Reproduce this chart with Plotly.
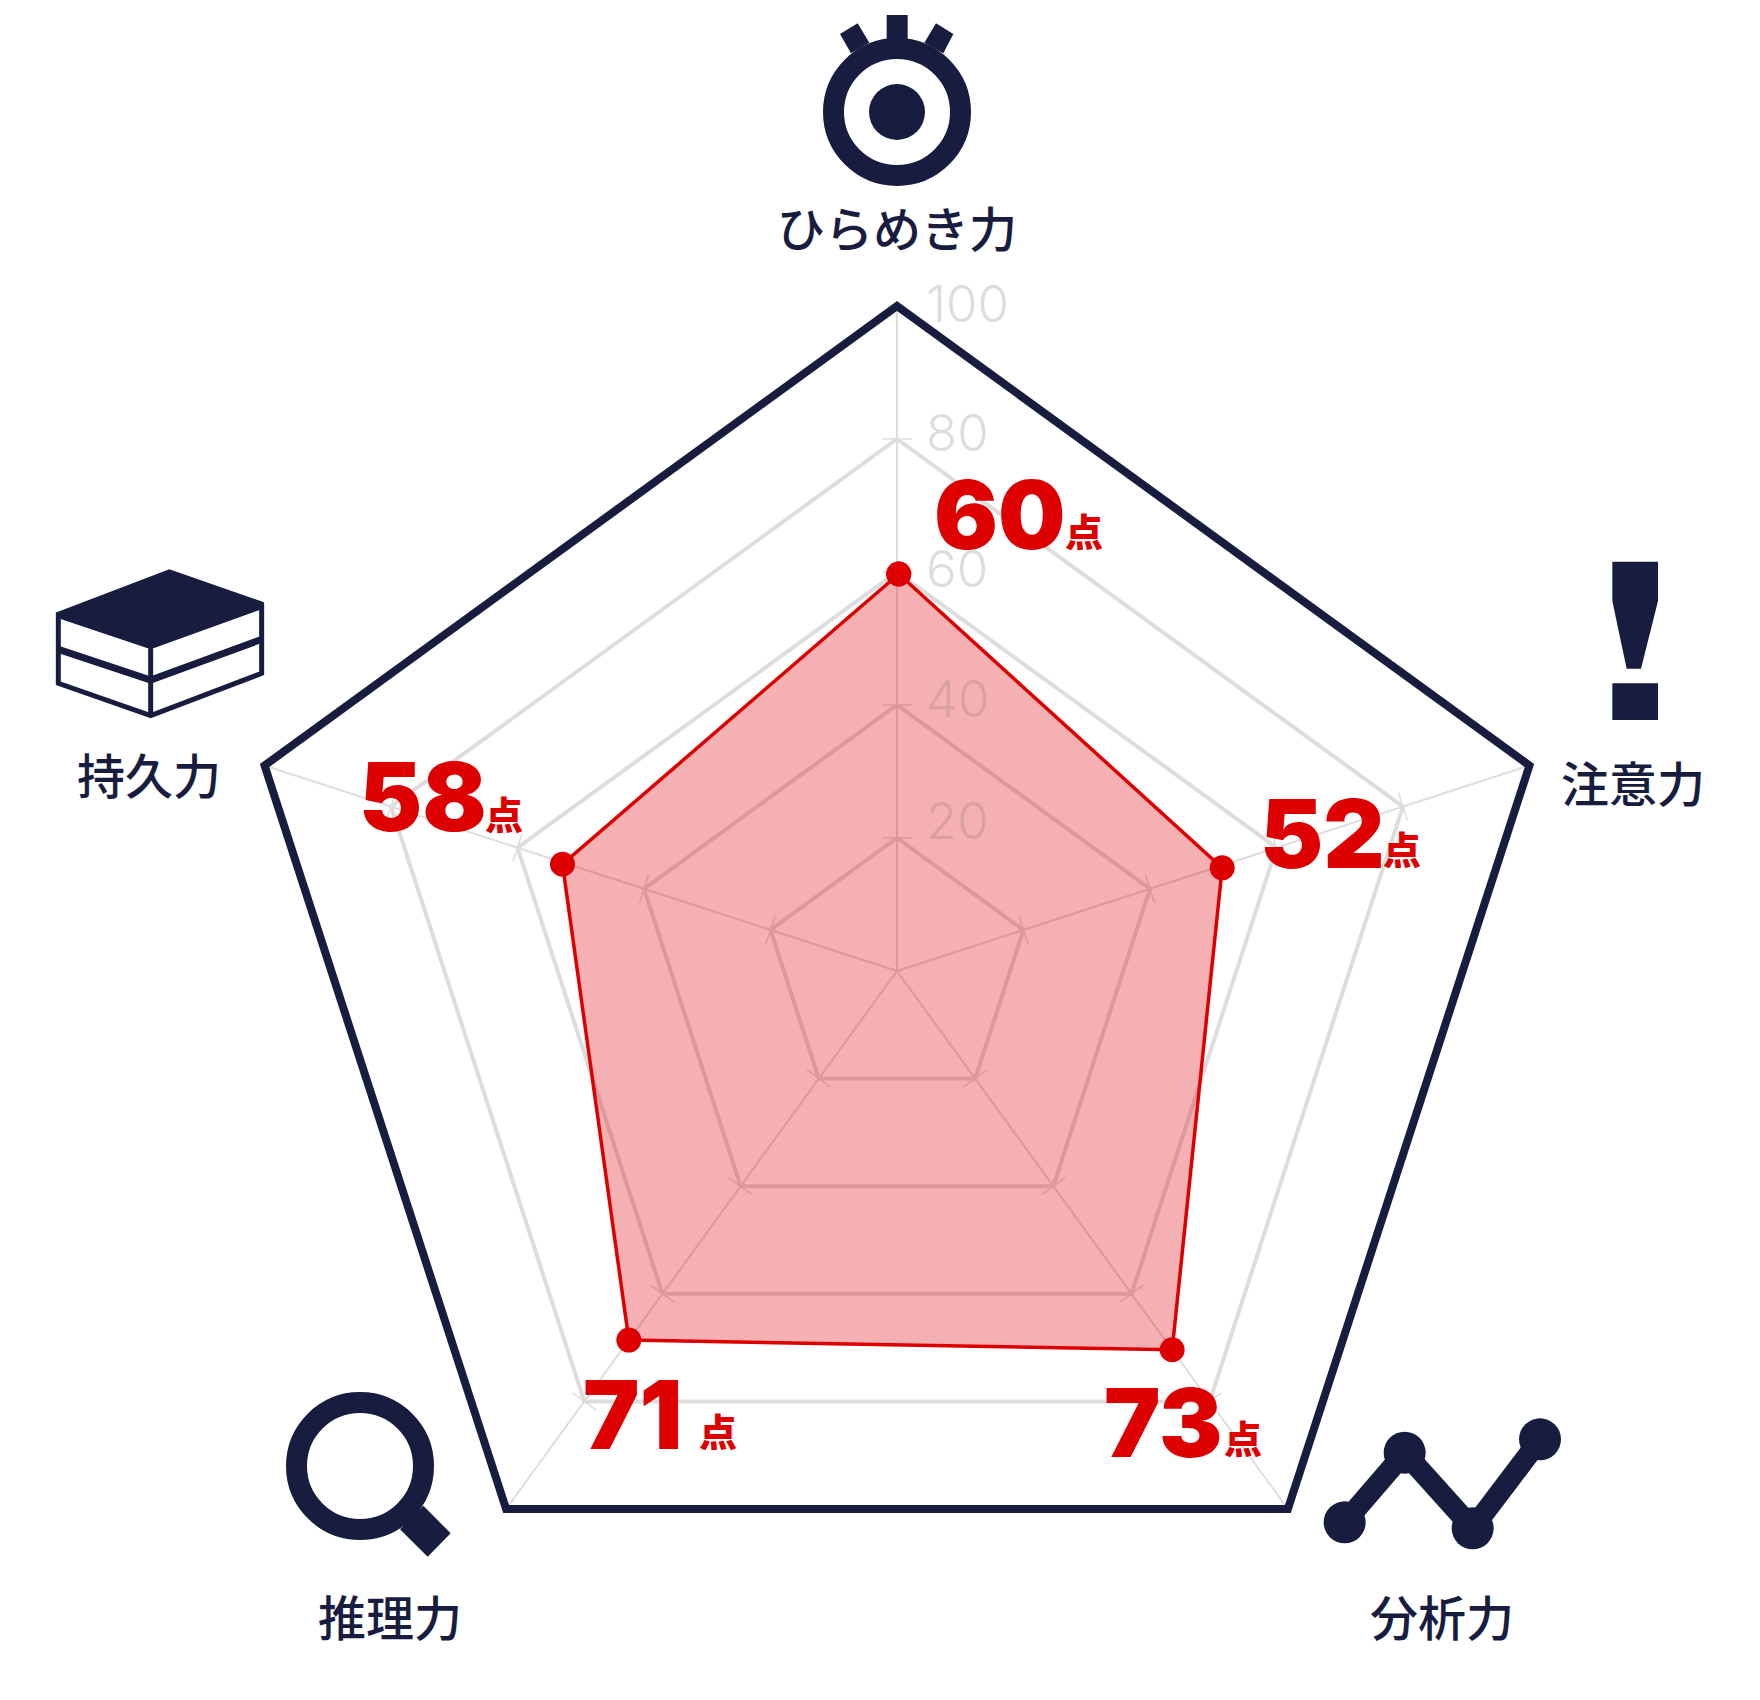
import math
import plotly.graph_objects as go

W, H = 1760, 1700
CX, CY, R = 897, 971, 665

categories = ["ひらめき力", "注意力", "分析力", "推理力", "持久力"]
spoke_angles = [0, 72, 144, 216, 288]
drawn_values = [59.7, 51.3, 70.4, 68.6, 52.8]
drawn_angles = [0.25, 72.4, 144.0, 216.0, 287.7]
score_labels = ["60", "52", "73", "71", "58"]
ring_values = [20, 40, 60, 80, 100]
tick_rings = [20, 40, 60, 80]

NAVY = "#181d3f"
RED = "#de0000"
GRID = "#dddddd"

def px(x):
    return x / W

def py(y):
    return 1 - y / H

def poly(points, fill=NAVY):
    d = "M" + "L".join(f"{px(x):.5f},{py(y):.5f}" for x, y in points) + "Z"
    return dict(type="path", path=d, xref="paper", yref="paper", fillcolor=fill, line=dict(width=0), layer="above")

def stroke(points, width, closed=False):
    d = "M" + "L".join(f"{px(x):.5f},{py(y):.5f}" for x, y in points) + ("Z" if closed else "")
    return dict(type="path", path=d, xref="paper", yref="paper", line=dict(color=NAVY, width=width), layer="above")

def circle(cx, cy, r, fill=NAVY, line_w=0):
    return dict(type="circle", xref="paper", yref="paper", x0=px(cx - r), x1=px(cx + r), y0=py(cy + r), y1=py(cy - r),
                fillcolor=fill, line=dict(color=NAVY, width=line_w), layer="above")

def z(ox, oy, pts):
    return [(ox + a / 3, oy + b / 3) for a, b in pts]

fig = go.Figure()

for ring in tick_rings:
    fig.add_trace(go.Scatterpolar(
        r=[ring] * len(categories), theta=categories, mode="markers", hoverinfo="skip", showlegend=False,
        marker=dict(symbol="line-ew", size=21, angle=spoke_angles, color=GRID, line=dict(color=GRID, width=1.5)),
    ))

fig.add_trace(go.Scatterpolar(
    subplot="polar2",
    r=drawn_values + drawn_values[:1], theta=drawn_angles + drawn_angles[:1], mode="lines+markers", fill="toself",
    fillcolor="rgba(221,0,8,0.31)", line=dict(color=RED, width=3.5), showlegend=False, cliponaxis=False,
    marker=dict(size=25, color=RED),
))

shapes = []
# outer frame of the radar
shapes.append(stroke([(CX + R * math.sin(math.radians(a)), CY - R * math.cos(math.radians(a))) for a in spoke_angles], 8, closed=True))
# eye
shapes += [circle(897, 112, 63.5, fill="rgba(0,0,0,0)", line_w=21), circle(897, 112, 28)]
shapes += [poly(z(740, 0, p)) for p in (
    [(440, 45), (503, 45), (503, 130), (440, 130)],
    [(300, 102), (353, 70), (388, 128), (333, 160)],
    [(640, 102), (588, 70), (553, 128), (610, 160)],
)]
# books
shapes.append(poly(z(30, 550, [(80, 187), (418, 58), (702, 157), (695, 178), (362, 298), (85, 205)])))
shapes.append(stroke(z(30, 550, [(85, 187), (85, 400), (362, 497), (695, 370), (695, 160)]), 5))
shapes.append(stroke(z(30, 550, [(362, 295), (362, 497)]), 5))
shapes.append(stroke(z(30, 550, [(85, 298), (362, 390), (695, 268)]), 7))
# magnifier
shapes.append(circle(360, 1466, 63.5, fill="rgba(0,0,0,0)", line_w=21))
shapes.append(poly(z(260, 1370, [(490, 407), (572, 490), (503, 560), (420, 478)])))
# trend
trend = z(1300, 1380, [(134, 427), (314, 218), (518, 445), (720, 178)])
shapes.append(stroke(trend, 21))
shapes += [circle(x, y, 21) for x, y in trend]
# exclamation
shapes.append(poly(z(1530, 540, [(247, 65), (384, 65), (384, 183), (333, 386), (290, 386), (247, 183)])))
shapes.append(poly(z(1530, 540, [(247, 430), (384, 430), (384, 540), (247, 540)])))

def note(text, x, y, size, color, weight=400, family="Noto Sans CJK JP", anchor="center"):
    return dict(text=text, x=px(x), y=py(y), xref="paper", yref="paper", xanchor=anchor, yanchor="middle", showarrow=False,
                font=dict(size=size, color=color, family=family, weight=weight))

label_centers = [(897, 226), (1633, 781), (1442, 1615), (390, 1615), (149, 773)]
score_centers = [(1000, 514), (1322, 833), (1163, 1422), (632, 1414), (423, 797)]
unit_centers = [(1084, 529), (1402, 848), (1243, 1436), (718, 1429), (504, 812)]
ring_label_pos = [(924, 820), (924, 699), (924, 568), (924, 433), (924, 303)]
ring_label_col = ["#dba0a4", "#dba0a4", GRID, GRID, GRID]

annotations = []
for cat, (x, y) in zip(categories, label_centers):
    annotations.append(note(cat, x, y, 48, NAVY, 500))
for v, (x, y), c in zip(ring_values, ring_label_pos, ring_label_col):
    annotations.append(note(str(v), x, y, 51, c, 300, "Inter", "left"))
for s, (x, y) in zip(score_labels, score_centers):
    annotations.append(note(s, x, y, 95, RED, 900, "Inter"))
for (x, y) in unit_centers:
    annotations.append(note("点", x, y, 38, RED, 900))

domain = dict(x=[(CX - R) / W, (CX + R) / W], y=[1 - (CY + R) / H, 1 - (CY - R) / H])

fig.update_layout(
    width=W, height=H, margin=dict(l=0, r=0, t=0, b=0), paper_bgcolor="white", plot_bgcolor="white",
    showlegend=False, shapes=shapes, annotations=annotations,
    polar=dict(
        domain=domain, bgcolor="white", gridshape="linear",
        radialaxis=dict(range=[0, 100], tickvals=ring_values, showticklabels=False, ticks="", showline=False,
                        gridcolor=GRID, gridwidth=4),
        angularaxis=dict(type="category", categoryorder="array", categoryarray=categories, rotation=90,
                         direction="clockwise", showticklabels=False, ticks="", gridcolor=GRID, gridwidth=1.5,
                         showline=False),
    ),
    polar2=dict(
        domain=domain, bgcolor="rgba(0,0,0,0)",
        radialaxis=dict(range=[0, 100], visible=False),
        angularaxis=dict(type="linear", thetaunit="degrees", rotation=90, direction="clockwise", visible=False),
    ),
)

fig.write_html("out.html", post_script="document.body.style.margin='0';", config={"displayModeBar": False})
